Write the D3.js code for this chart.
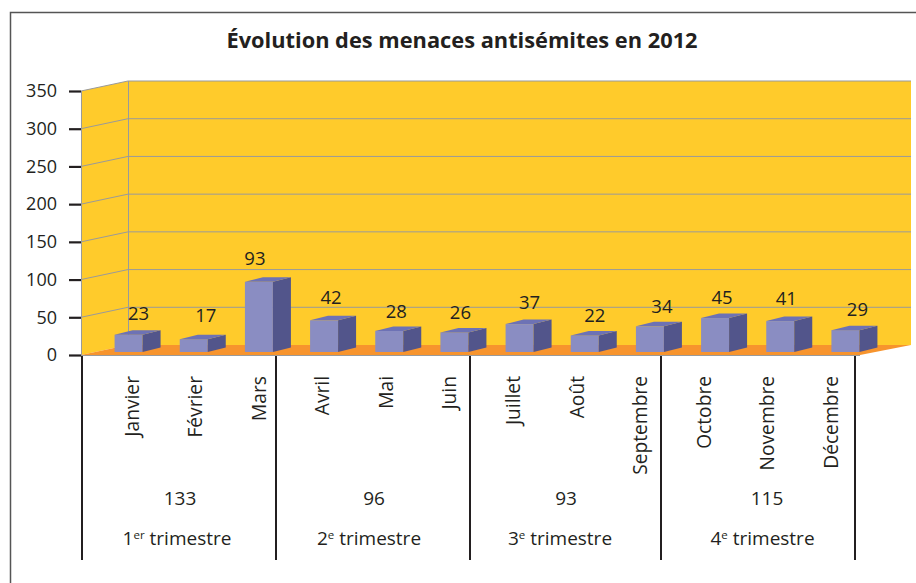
<!DOCTYPE html>
<html>
<head>
<meta charset="utf-8">
<script src="https://cdn.jsdelivr.net/npm/d3@7"></script>
<style>
  html, body { margin: 0; padding: 0; background: #fff; }
  svg { display: block; }
  text { font-family: "Open Sans", "Noto Sans", sans-serif; fill: #231f20; }
</style>
</head>
<body>
<script>
var months = ['Janvier', 'Février', 'Mars', 'Avril', 'Mai', 'Juin', 'Juillet', 'Août', 'Septembre', 'Octobre', 'Novembre', 'Décembre'];
var menaces = [23, 17, 93, 42, 28, 26, 37, 22, 34, 45, 41, 29];
var quarters = ['1', '2', '3', '4'];
var quarterSuffix = ['er', 'e', 'e', 'e'];
var quarterTotals = [133, 96, 93, 115];
var yTicks = [0, 50, 100, 150, 200, 250, 300, 350];

var W = 916, H = 583;
var svg = d3.select('body').append('svg').attr('width', W).attr('height', H);

var depth = { x: 47, y: -10 };          // wall offset of the fake 3d box
var barDepth = { x: 18, y: -4.5 };
var barWidth = 28;

var y = d3.scaleLinear().domain([0, 350]).range([355, 91]);
var xBar = d3.scaleBand().domain(months).range([96, 878]);
var xLabel = d3.scalePoint().domain(months).range([132.5, 832]);
var quarterEdges = [82, 276, 470, 661, 855];

function poly(pts) { return pts.map(function (p) { return p.join(','); }).join(' '); }

// frame, open at the bottom and on the right
svg.append('path')
  .attr('d', 'M10.5,583V12.5H916')
  .attr('fill', 'none').attr('stroke', '#555').attr('stroke-width', 1.5);

svg.append('text')
  .attr('x', 462).attr('y', 48)
  .attr('text-anchor', 'middle')
  .style('font-size', '21.8px').style('font-weight', 700)
  .text('Évolution des menaces antisémites en 2012');

// walls
var wallRight = 911;
svg.append('polygon')
  .attr('points', poly([[81, y(350)], [81 + depth.x, y(350) + depth.y], [81 + depth.x, y(0) + depth.y], [81, y(0)]]))
  .attr('fill', '#ffcb2b');
svg.append('rect')
  .attr('x', 81 + depth.x).attr('y', y(350) + depth.y)
  .attr('width', wallRight - 81 - depth.x).attr('height', y(0) - y(350))
  .attr('fill', '#ffcb2b');
svg.append('polygon')
  .attr('points', poly([[81, y(0)], [81 + depth.x, y(0) + depth.y], [wallRight, y(0) + depth.y], [860, y(0)]]))
  .attr('fill', '#f7942d');

// gridlines on both walls
var grid = svg.append('g').attr('stroke', '#9a9a9a').attr('stroke-width', 1).attr('fill', 'none');
grid.selectAll('path.g')
  .data(yTicks.filter(function (d) { return d > 0; }))
  .enter().append('path')
  .attr('class', 'g')
  .attr('d', function (d) {
    return 'M81,' + y(d) + 'L' + (81 + depth.x) + ',' + (y(d) + depth.y) + 'H' + wallRight;
  });
grid.append('path').attr('d', 'M' + (81 + depth.x + 0.5) + ',' + (y(350) + depth.y) + 'V' + (y(0) + depth.y));
grid.append('path').attr('d', 'M81.5,' + y(350) + 'V' + y(0));
grid.append('path').attr('d', 'M81,' + (y(0) + 0.5) + 'H860');

// y axis
var axis = svg.append('g')
  .attr('transform', 'translate(81,0)')
  .call(d3.axisLeft(y).tickValues(yTicks).tickSize(12).tickPadding(12));
axis.select('.domain').remove();
axis.selectAll('line').attr('stroke', '#231f20').attr('stroke-width', 2.2);
axis.selectAll('text').style('font-size', '18px').attr('fill', '#231f20');

// bars
var base = 352;
var barH = function (d) { return y(0) - y(d); };
var bar = svg.selectAll('g.bar')
  .data(menaces)
  .enter().append('g')
  .attr('class', 'bar')
  .attr('transform', function (d, i) {
    return 'translate(' + (xBar(months[i]) + (xBar.bandwidth() - barWidth) / 2) + ',0)';
  });

bar.append('rect')
  .attr('x', 0).attr('y', function (d) { return base - barH(d); })
  .attr('width', barWidth).attr('height', barH)
  .attr('fill', '#8a8dc2');
bar.append('polygon')
  .attr('points', function (d) {
    var t = base - barH(d);
    return poly([[barWidth, t], [barWidth + barDepth.x, t + barDepth.y], [barWidth + barDepth.x, base + barDepth.y], [barWidth, base]]);
  })
  .attr('fill', '#52558b');
bar.append('polygon')
  .attr('points', function (d) {
    var t = base - barH(d);
    return poly([[0, t], [barDepth.x, t + barDepth.y], [barWidth + barDepth.x, t + barDepth.y], [barWidth, t]]);
  })
  .attr('fill', '#6d72b5');

// value labels sit a bit loose above the bars in the original
var labelDx = [24, 26, 10, 21, 21, 20, 24, 24, 26, 21, 20, 26];
var labelGap = [15, 17, 17, 16, 13, 13, 15, 13, 13, 14, 16, 14];
bar.append('text')
  .attr('x', function (d, i) { return labelDx[i]; })
  .attr('y', function (d, i) { return base - barH(d) - labelGap[i]; })
  .attr('text-anchor', 'middle')
  .style('font-size', '18.5px')
  .text(function (d) { return d; });

// month labels
svg.selectAll('text.month')
  .data(months)
  .enter().append('text')
  .attr('class', 'month')
  .attr('transform', function (d) { return 'translate(' + (xLabel(d) + 6) + ',376) rotate(-90)'; })
  .attr('text-anchor', 'end')
  .style('font-size', '19.2px')
  .text(function (d) { return d; });

// quarter separators and labels
svg.selectAll('line.sep')
  .data(quarterEdges)
  .enter().append('line')
  .attr('class', 'sep')
  .attr('x1', function (d) { return d; }).attr('x2', function (d) { return d; })
  .attr('y1', 356).attr('y2', 560)
  .attr('stroke', '#231f20').attr('stroke-width', 2);

// the labels are not quite centred between the separators in the original
var totalNudge = [1, 1, 0.5, 9];
var quarterNudge = [-2, -4, -5.5, 4.5];
var mid = function (i) { return (quarterEdges[i] + quarterEdges[i + 1]) / 2; };

svg.selectAll('text.total')
  .data(quarterTotals)
  .enter().append('text')
  .attr('class', 'total')
  .attr('x', function (d, i) { return mid(i) + totalNudge[i]; })
  .attr('y', 505)
  .attr('text-anchor', 'middle')
  .style('font-size', '19px')
  .text(function (d) { return d; });

var qLabel = svg.selectAll('text.quarter')
  .data(quarters)
  .enter().append('text')
  .attr('class', 'quarter')
  .attr('x', function (d, i) { return mid(i) + quarterNudge[i]; })
  .attr('y', 545)
  .attr('text-anchor', 'middle')
  .style('font-size', '19px');
qLabel.append('tspan').text(function (d) { return d; });
qLabel.append('tspan')
  .attr('dy', -6).style('font-size', '11.5px')
  .text(function (d, i) { return quarterSuffix[i]; });
qLabel.append('tspan')
  .attr('dy', 6)
  .text(' trimestre');
</script>
</body>
</html>
